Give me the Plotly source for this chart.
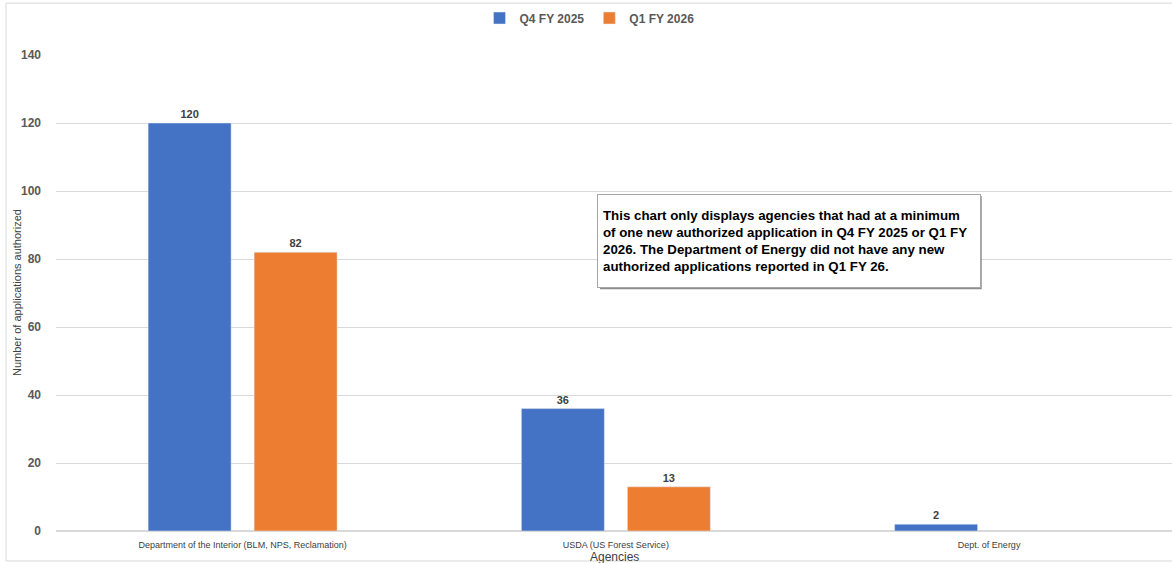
import plotly.graph_objects as go

categories = ["Department of the Interior (BLM, NPS, Reclamation)", "USDA (US Forest Service)", "Dept. of Energy"]
q4_fy2025 = [120, 36, 2]
q1_fy2026 = [82, 13, None]
y_ticks = [0, 20, 40, 60, 80, 100, 120, 140]
note_text = ("This chart only displays agencies that had at a minimum<br>"
             "of one new authorized application in Q4 FY 2025 or Q1 FY<br>"
             "2026. The Department of Energy did not have any new<br>"
             "authorized applications reported in Q1 FY 26.")

label_font = dict(family="Liberation Sans", size=11, color="#404040", weight="bold")

fig = go.Figure()
fig.add_trace(go.Bar(
    name="Q4 FY 2025", x=categories, y=q4_fy2025, marker_color="#4472C4",
    text=[str(v) for v in q4_fy2025], textposition="outside",
    textfont=label_font, cliponaxis=False))
fig.add_trace(go.Bar(
    name="Q1 FY 2026", x=categories, y=q1_fy2026, marker_color="#ED7D31",
    text=[str(v) if v is not None else "" for v in q1_fy2026], textposition="outside",
    textfont=label_font, cliponaxis=False))

fig.update_layout(
    width=1172, height=563,
    margin=dict(l=56, r=0, t=55, b=32, autoexpand=False),
    paper_bgcolor="white", plot_bgcolor="white",
    barmode="group", bargap=0.432, bargroupgap=0.217,
    font=dict(family="Liberation Sans", color="#595959"),
    legend=dict(orientation="h", xref="container", yref="container",
                x=0.503, y=1 - 18 / 563, xanchor="center", yanchor="middle",
                font=dict(size=12, color="#595959", weight="bold"),
                itemwidth=30, tracegroupgap=0),
    xaxis=dict(
        range=[-0.5, 2.49], showgrid=False, showline=True, linecolor="#D9D9D9",
        ticks="", tickfont=dict(size=9, color="#404040"), automargin=False,
        ticklabelstandoff=5,
    ),
    yaxis=dict(
        range=[0, 140], tickvals=y_ticks, showgrid=True, gridcolor="#D9D9D9",
        zeroline=True, zerolinecolor="#D9D9D9", showline=False, ticks="",
        tickfont=dict(size=12, color="#595959", weight="bold"), ticklabelstandoff=14,
        automargin=False,
    ),
)

# axis titles
fig.add_annotation(xref="paper", yref="paper", x=0.5, y=(531 - 557) / 476,
                   xanchor="center", yanchor="middle", showarrow=False,
                   text="Agencies", font=dict(size=12, color="#404040"))
fig.add_annotation(xref="paper", yref="paper", x=(17 - 56) / 1116, y=0.5,
                   xanchor="center", yanchor="middle", showarrow=False, textangle=-90,
                   text="Number of applications authorized",
                   font=dict(size=11, color="#404040"))

# outer chart border
fig.add_shape(type="rect", xref="paper", yref="paper",
              x0=-0.0448, x1=1.02, y0=-0.063, y1=1.109,
              line=dict(color="#D9D9D9", width=1), layer="below")

# shadow for note box
fig.add_shape(type="rect", xref="paper", yref="paper",
              x0=0.4875, x1=0.8295, y0=0.508, y1=0.704,
              line=dict(width=0), fillcolor="#8C8C8C", layer="above")

fig.add_annotation(
    xref="paper", yref="paper", x=0.4848, y=0.708, xanchor="left", yanchor="top",
    text=note_text, showarrow=False, align="left",
    font=dict(family="Liberation Sans", size=13.3, color="black", weight="bold"),
    bgcolor="white", bordercolor="#A6A6A6", borderwidth=1, borderpad=5,
    width=372, height=82)

fig.write_html("out.html", config={"displayModeBar": False},
               post_script="document.body.style.margin='0';")
